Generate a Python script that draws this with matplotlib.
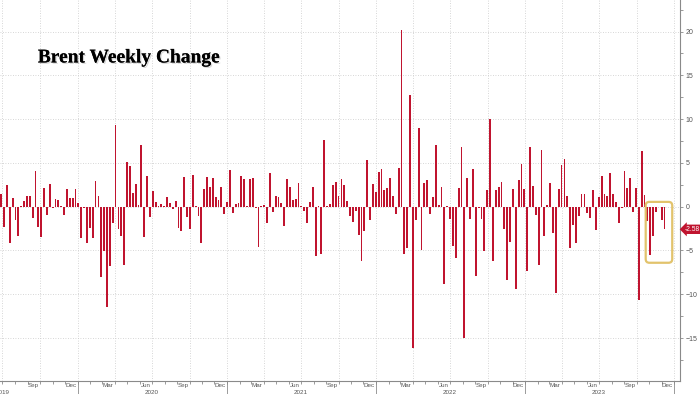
# plot.py

import pandas as pd

import matplotlib
matplotlib.use("Agg")

import matplotlib.pyplot as plt
import matplotlib.dates as mdates
import matplotlib.transforms as mtransforms
import matplotlib.patheffects as pe
from matplotlib.patches import FancyBboxPatch


# =========================================
# Data : Brent weekly change ($), Fridays
# =========================================

start_week = "2019-06-28"

chg_2019 = [
    1.4, -2.3, 2.5, -4.2, 1.0, -1.5, -3.3, 0.1, 0.7, 1.2,
    1.2, -1.3, 4.1, -2.3, -3.5, 2.1, -1.0, 2.6, -0.2, 0.9,
    0.8, 0.1, -0.9, 2.0, 1.0, 1.0, 2.0,
]

chg_2020 = [
    0.4, -3.6, -0.1, -4.1, -2.4, -3.6, 2.9, 1.2, -8.0, -5.1,
    -11.4, -6.8, -1.9, 9.3, -2.6, -3.3, -6.6, 5.1, 4.6, 1.6,
    2.6, 0.2, 7.1, -3.5, 3.5, -1.2, 1.8, 0.5, 0.1, 0.3,
    0.05, 1.1, 0.4, -0.3, 0.7, -2.4, -2.8, 3.4, -1.2, -2.6,
    3.6, 0.1, -1.1, -4.2, 2.0, 3.4, 2.2, 3.3, 1.1, 0.8,
    2.3, -0.8,
]

chg_2021 = [
    0.5, 4.2, -0.7, 0.3, 0.4, 3.5, 3.2, 0.1, 3.2, 3.3,
    -0.1, -4.6, 0.05, 0.2, -1.9, 3.9, -0.6, 1.2, 1.1, 0.4,
    -2.2, 3.2, 2.3, 0.8, 0.9, 2.7, 0.05, -0.5, -1.9, 0.5,
    2.3, -5.6, 0.05, -5.4, 7.6, 0.05, 0.3, 2.5, 2.8, 1.2,
    3.2, 2.5, 0.7, -1.1, -1.7, -0.5, -3.2, -6.2, -2.8, 5.3,
    -1.5, 2.6, 1.7,
]

chg_2022 = [
    4.0, 4.3, 1.9, 2.1, 3.3, 1.2, -0.8, 4.4, 20.2, -5.4,
    -4.7, 12.8, -16.1, -1.5, 9.0, -5.0, 2.7, 3.1, -0.8, 1.1,
    7.0, 0.2, 2.3, -8.8, 0.05, -1.4, -4.5, -5.8, 2.1, 6.8,
    -15.0, 3.3, -1.4, 4.3, -7.9, -0.2, -1.4, -5.1, 1.9, 10.0,
    -6.2, 1.9, 2.3, 2.8, -2.6, -8.4, -4.0, 2.0, -9.4, 3.0,
    4.9, 2.0,
]

chg_2023 = [
    -7.3, 6.8, 2.4, -0.9, -6.7, 6.5, -3.3, 0.2, 2.7, -3.0,
    -9.8, 2.0, 4.8, 5.4, 1.2, -4.7, -2.1, -4.2, -1.1, 1.4,
    1.4, -0.7, -1.3, 1.9, -2.7, 1.1, 3.5, 1.5, 1.2, 3.9,
    1.4, 0.5, -1.9, -0.2, 4.1, 2.1, 3.3, -0.6, 2.1, -10.6,
    6.4, 1.3, -1.6, -5.5, -3.4, -0.6, -0.05, -1.5, -2.58,
]

y_ticks = [-15, -10, -5, 0, 5, 10, 15, 20]

years = [2019, 2020, 2021, 2022, 2023]

highlight_weeks = 7


# =========================================
# Style
# =========================================

BAR_COLOR = "#c0142f"
GRID_COLOR = "#c9c9c9"
AXIS_COLOR = "#8a8a8a"
TEXT_COLOR = "#555555"
BOX_COLOR = "#e2c36c"

plt.rcParams["font.family"] = ["Liberation Sans", "DejaVu Sans"]


# =========================================
# Build Series
# =========================================

values = chg_2019 + chg_2020 + chg_2021 + chg_2022 + chg_2023

dates = pd.date_range(start_week, periods=len(values), freq="7D")


# =========================================
# Figure
# =========================================

fig = plt.figure(figsize=(7, 3.94), dpi=100)

ax = fig.add_axes([0, 13 / 394, 680 / 700, 381 / 394])


# =========================================
# Bars
# =========================================

ax.bar(dates, values, width=4.5, color=BAR_COLOR, linewidth=0, zorder=3)


# =========================================
# Limits
# =========================================

ax.set_xlim(pd.Timestamp("2019-06-25"), pd.Timestamp("2024-01-15"))

ax.set_ylim(-19.9, 23.6)


# =========================================
# Spines
# =========================================

for side in ["left", "top"]:
    ax.spines[side].set_visible(False)

for side in ["right", "bottom"]:
    ax.spines[side].set_color(AXIS_COLOR)
    ax.spines[side].set_linewidth(0.8)


# =========================================
# Y Axis (right)
# =========================================

ax.yaxis.tick_right()

ax.set_yticks(y_ticks)

ax.set_yticks([t + 2.5 for t in y_ticks] + [-17.5], minor=True)

ax.tick_params(axis="y", which="both", direction="out", length=2,
               width=0.6, color=AXIS_COLOR, labelsize=5,
               labelcolor=TEXT_COLOR, pad=2)


# =========================================
# X Axis
# =========================================

ax.xaxis.set_major_locator(mdates.MonthLocator(bymonth=[1, 4, 7, 10]))

ax.xaxis.set_minor_locator(mdates.MonthLocator())

ax.tick_params(axis="x", which="both", direction="out", length=2,
               width=0.6, color=AXIS_COLOR, labelbottom=False)

xtrans = mtransforms.blended_transform_factory(ax.transData, ax.transAxes)

for m in pd.date_range("2019-09-01", "2023-12-01", freq="3MS"):
    ax.text(m + pd.Timedelta(days=14), -0.013, m.strftime("%b"),
            transform=xtrans, ha="center", va="center",
            fontsize=4.5, color=TEXT_COLOR)

for yr in years:
    ax.text(pd.Timestamp(f"{yr}-07-01"), -0.029, str(yr),
            transform=xtrans, ha="center", va="center",
            fontsize=4.5, color=TEXT_COLOR)

for yr in years[1:] + [years[-1] + 1]:
    ax.plot([pd.Timestamp(f"{yr}-01-01")] * 2, [0, -0.04],
            transform=xtrans, color=AXIS_COLOR, lw=0.6, clip_on=False)


# =========================================
# Grid
# =========================================

ax.grid(True, which="major", linestyle=(0, (1, 2)),
        color=GRID_COLOR, linewidth=0.6, zorder=0)

ax.set_axisbelow(True)


# =========================================
# Last Value Label
# =========================================

ytrans = mtransforms.blended_transform_factory(ax.transAxes, ax.transData)

ax.text(1.007, values[-1], f"{values[-1]:.2f}", transform=ytrans,
        ha="left", va="center", fontsize=4.8, color="white",
        bbox=dict(boxstyle="larrow,pad=0.18", fc=BAR_COLOR, ec="none"),
        clip_on=False)


# =========================================
# Highlight Box
# =========================================

recent = values[-highlight_weeks:]

x0 = mdates.date2num(dates[-highlight_weeks] - pd.Timedelta(days=4))
x1 = mdates.date2num(dates[-1] + pd.Timedelta(days=19))
y0 = min(recent) - 0.9
y1 = 0.55

box = FancyBboxPatch((x0, y0), x1 - x0, y1 - y0,
                     boxstyle="round,pad=0,rounding_size=9",
                     mutation_aspect=0.047, transform=ax.transData,
                     fill=False, ec=BOX_COLOR, lw=1.6, zorder=4)

ax.add_patch(box)


# =========================================
# Title
# =========================================

fig.text(0.054, 0.853, "Brent Weekly Change",
         family="Liberation Serif", weight="bold", size=14,
         va="center", ha="left", color="black",
         path_effects=[pe.withSimplePatchShadow(offset=(1, -1),
                                                alpha=0.15),
                       pe.Normal()])


# =========================================
# Save
# =========================================

fig.savefig("out.png", dpi=100, facecolor="white")
